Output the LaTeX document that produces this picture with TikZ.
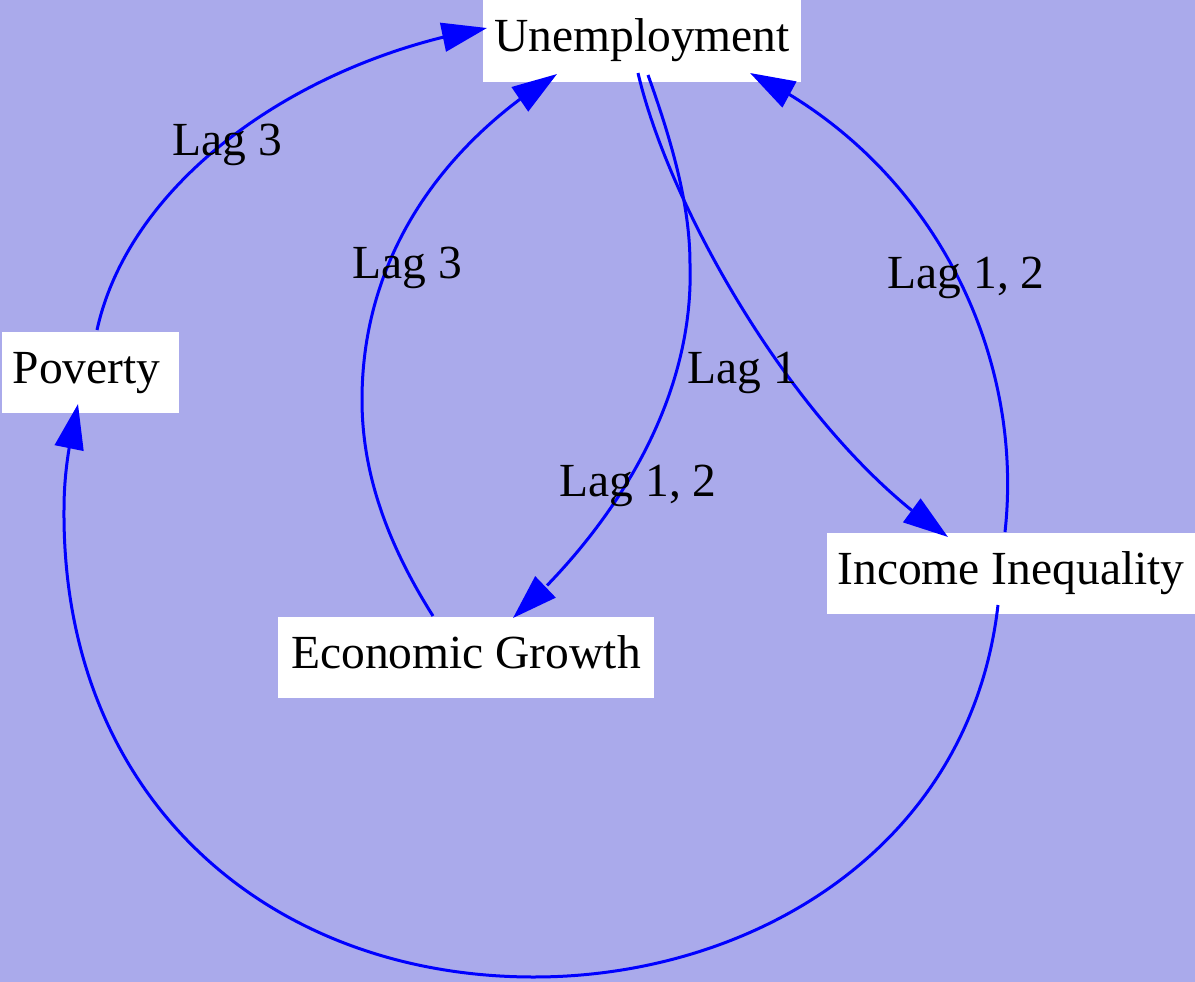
\documentclass[tikz,border=0pt]{standalone}
\usepackage{fontspec}
\setmainfont{Liberation Serif}
\usetikzlibrary{arrows.meta,bending}
\definecolor{bgc}{RGB}{170,170,235}
\definecolor{edgec}{RGB}{0,0,255}
\begin{document}
\begin{tikzpicture}[x=1pt,y=-1pt,
  box/.style={fill=white, inner sep=0pt, text height=32pt, text depth=10pt, font=\fontsize{47.5}{56}\selectfont},
  lbl/.style={anchor=base, inner sep=0pt, font=\fontsize{47.5}{56}\selectfont},
  edge/.style={edgec, line width=3pt, -{Triangle[length=45pt,width=29pt]}}]
\fill[bgc] (0,0) rectangle (1195,982);
\useasboundingbox (0,0) rectangle (1195,982);
\node[box, minimum width=318pt, minimum height=82pt] (U) at (642,41) {Unemployment};
\node[box, minimum width=177pt, minimum height=81pt] (P) at (90.5,372.5) {\hspace*{-8pt}Poverty};
\node[box, minimum width=376pt, minimum height=81pt] (EG) at (466,657.5) {Economic Growth};
\node[box, minimum width=368pt, minimum height=81pt] (II) at (1011,573.5) {Income Inequality};
% edges
\draw[edge] ([shift={(6.5,-42.5)}]P.center) .. controls (130,180) and (300,60) .. ([shift={(-155,-13)}]U.center);
\draw[edge] ([shift={(-33,-41.5)}]EG.center) .. controls (385,540) and (362,470) .. (362,400) .. controls (362,250) and (450,140) .. ([shift={(-85,33)}]U.center);
\draw[edge] ([shift={(6,34)}]U.center) .. controls (675,150) and (690,210) .. (690,264) .. controls (695,420) and (590,550) .. ([shift={(47,-39.5)}]EG.center);
\draw[edge] ([shift={(-4,32)}]U.center) .. controls (670,210) and (800,440) .. ([shift={(-63,-36.5)}]II.center);
\draw[edge] ([shift={(-6,-41.5)}]II.center) .. controls (1025,350) and (930,160) .. ([shift={(108,32)}]U.center);
\draw[edge] ([shift={(-13,31.5)}]II.center) .. controls (970,850) and (750,977) .. (534,977) .. controls (270,977) and (62,800) .. (64,510) .. controls (64,470) and (70,440) .. ([shift={(-12.5,31.5)}]P.center);
% labels
\node[lbl] (l1) at (227,155) {Lag 3};
\node[lbl] (l2) at (407,278) {Lag 3};
\node[lbl] (l3) at (638,496) {Lag 1, 2};
\node[lbl] (l4) at (742,383) {Lag 1};
\node[lbl] (l5) at (966,288) {Lag 1, 2};
\end{tikzpicture}
\end{document}
